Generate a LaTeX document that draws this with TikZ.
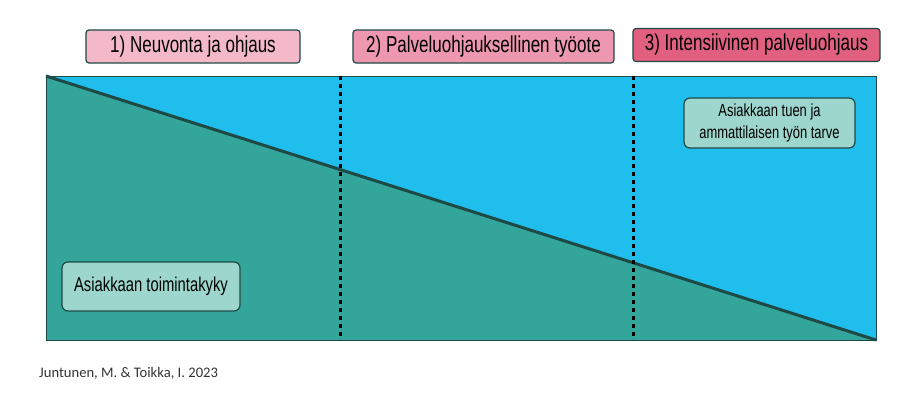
\documentclass[tikz,border=0pt]{standalone}
\usepackage{fontspec}
\newfontfamily\narrowfont{Liberation Sans}[FakeStretch=0.74]
\newfontfamily\citefont{Carlito}
\definecolor{skyblue}{HTML}{20BEEC}
\definecolor{teal}{HTML}{33A59A}
\definecolor{edge}{HTML}{1E4A46}
\definecolor{mint}{HTML}{9CD6CC}
\definecolor{pinkA}{HTML}{F4B9C9}
\definecolor{pinkB}{HTML}{EE97B0}
\definecolor{pinkC}{HTML}{E2607F}

\begin{document}
\begin{tikzpicture}[x=1pt,y=-1pt,
        phase/.style={draw=edge, line width=1.2pt, rounded corners=3pt,
            minimum height=33pt, inner sep=0pt,
            font=\narrowfont\fontsize{23}{26}\selectfont},
        tag/.style={draw=edge, fill=mint, line width=1.2pt, rounded corners=6pt,
            inner sep=0pt, align=center},
        border/.style={black, line width=3pt, dash pattern=on 4pt off 4pt}
    ]
    \useasboundingbox (0,0) rectangle (904,407);
    % frame corners
    \coordinate (nw) at (46,76);
    \coordinate (se) at (876,340);
    \coordinate (sw) at (46,340);
    \fill[skyblue] (nw) rectangle (se);
    \fill[teal] (nw) -- (se) -- (sw) -- cycle;
    \draw[edge, line width=1pt] (nw) rectangle (se);
    \draw[edge, line width=3pt] (nw) -- (se);
    % phase borders
    \coordinate (b1top) at (340,76);
    \coordinate (b1bot) at (340,340);
    \coordinate (b2top) at (633,76);
    \coordinate (b2bot) at (633,340);
    \draw[border] (b1top) -- (b1bot);
    \draw[border] (b2top) -- (b2bot);
    % phases
    \node[phase, fill=pinkA, minimum width=214pt] (neuvonta) at (193,46.5) {1) Neuvonta ja ohjaus};
    \node[phase, fill=pinkB, minimum width=261pt] (tyoote) at (483.5,46.5) {2) Palveluohjauksellinen työote};
    \node[phase, fill=pinkC, minimum width=247pt] (intensiivinen) at (756.5,45) {3) Intensiivinen palveluohjaus};
    % tags
    \node[tag, minimum width=178pt, minimum height=49pt,
        font=\narrowfont\fontsize{20}{23}\selectfont] (toimintakyky) at (151,286.5) {Asiakkaan toimintakyky};
    \node[tag, minimum width=171pt, minimum height=50pt,
        font=\narrowfont\fontsize{17.5}{22}\selectfont] (tarve) at (769.5,123) {Asiakkaan tuen ja\\ammattilaisen työn tarve};
    \node[anchor=west, inner sep=0pt, font=\citefont\fontsize{14.6}{17}\selectfont, text=black!80] (lahde) at (39,373) {Juntunen, M. \& Toikka, I. 2023};
\end{tikzpicture}
\end{document}
